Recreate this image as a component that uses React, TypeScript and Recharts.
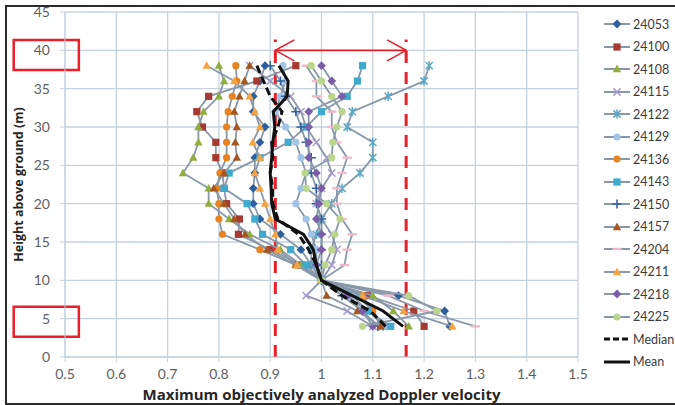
import React from "react";
import { ScatterChart, Scatter, XAxis, YAxis, CartesianGrid, ReferenceLine, ReferenceArea } from "recharts";

// heights (m) shared by every profile, bottom to top
const heights = [4, 6, 8, 10, 12, 14, 16, 18, 20, 22, 24, 26, 28, 30, 32, 34, 36, 38];

const xTicks = [0.5, 0.6, 0.7, 0.8, 0.9, 1, 1.1, 1.2, 1.3, 1.4, 1.5];
const yTicks = [0, 5, 10, 15, 20, 25, 30, 35, 40, 45];

// normalized max velocity, one value per height
const v24053 = [1.25, 1.24, 1.15, 1.0, 0.98, 0.96, 0.92, 0.88, 0.867, 0.867, 0.87, 0.87, 0.88, 0.89, 0.867, 0.867, 0.88, 0.89];
const v24100 = [1.2, 1.18, 1.09, 1.0, 0.96, 0.9, 0.838, 0.84, 0.815, 0.81, 0.807, 0.794, 0.794, 0.768, 0.757, 0.78, 0.874, 0.95];
const v24108 = [1.17, 1.14, 1.1, 1.0, 0.96, 0.92, 0.86, 0.82, 0.78, 0.78, 0.73, 0.75, 0.76, 0.76, 0.77, 0.8, 0.81, 0.8];
const v24115 = [1.1, 1.05, 0.97, 1.0, 1.02, 1.03, 1.02, 1.0, 0.99, 1.0, 1.02, 1.01, 0.99, 0.97, 0.96, 0.94, 0.9, 0.86];
const v24122 = [1.12, 1.1, 1.07, 1.0, 0.98, 0.98, 0.99, 1.0, 1.02, 1.04, 1.075, 1.1, 1.1, 1.05, 1.06, 1.13, 1.2, 1.21];
const v24129 = [1.13, 1.09, 1.06, 1.0, 0.99, 0.99, 0.98, 0.97, 0.95, 0.96, 0.97, 0.96, 0.95, 0.93, 0.91, 0.92, 0.93, 0.925];
const v24136 = [1.115, 1.1, 1.08, 1.0, 0.95, 0.88, 0.807, 0.8, 0.8, 0.796, 0.802, 0.815, 0.815, 0.815, 0.818, 0.826, 0.835, 0.833];
const v24143 = [1.135, 1.09, 1.05, 1.0, 0.97, 0.94, 0.885, 0.87, 0.855, 0.81, 0.82, 0.88, 0.935, 0.97, 1.0, 1.05, 1.07, 1.08];
const v24150 = [1.11, 1.08, 1.04, 1.0, 1.0, 1.0, 1.0, 1.0, 0.99, 0.99, 0.98, 0.98, 0.97, 0.96, 0.95, 0.93, 0.92, 0.9];
const v24157 = [1.115, 1.07, 1.01, 1.0, 0.95, 0.894, 0.851, 0.83, 0.81, 0.79, 0.81, 0.835, 0.832, 0.835, 0.83, 0.84, 0.85, 0.86];
const v24204 = [1.3, 1.2, 1.13, 1.0, 1.045, 1.05, 1.06, 1.04, 1.03, 1.03, 1.04, 1.05, 1.03, 1.02, 1.02, 0.99, 0.99, 0.97];
const v24211 = [1.255, 1.16, 1.08, 1.0, 0.952, 0.915, 0.91, 0.9, 0.89, 0.88, 0.87, 0.88, 0.866, 0.88, 0.87, 0.86, 0.83, 0.776];
const v24218 = [1.1, 1.08, 1.05, 1.0, 0.99, 1.0, 1.0, 0.99, 0.995, 1.0, 0.99, 0.975, 0.975, 0.975, 0.975, 1.04, 1.02, 1.0];
const v24225 = [1.08, 1.225, 1.17, 1.0, 1.007, 1.02, 1.026, 1.036, 1.01, 0.97, 0.968, 1.02, 1.022, 1.03, 1.04, 1.02, 1.0, 0.98];
const vMedian = [1.125, 1.095, 1.04, 1.0, 0.99, 0.975, 0.955, 0.915, 0.905, 0.905, 0.9, 0.905, 0.903, 0.915, 0.923, 0.9, 0.887, 0.874];
const vMean = [1.159, 1.12, 1.06, 1.0, 0.99, 0.984, 0.965, 0.91, 0.903, 0.902, 0.9, 0.903, 0.905, 0.909, 0.906, 0.933, 0.935, 0.917];

const stations = [
  { name: "24053", values: v24053, color: "#2f5e9e", kind: "diamond" },
  { name: "24100", values: v24100, color: "#a63a32", kind: "square" },
  { name: "24108", values: v24108, color: "#8fae3c", kind: "triangle" },
  { name: "24115", values: v24115, color: "#a79ccc", kind: "x" },
  { name: "24122", values: v24122, color: "#5ba7c4", kind: "star" },
  { name: "24129", values: v24129, color: "#a3c3e6", kind: "circle" },
  { name: "24136", values: v24136, color: "#e8841f", kind: "circle" },
  { name: "24143", values: v24143, color: "#3eaacd", kind: "square" },
  { name: "24150", values: v24150, color: "#2f5e9e", kind: "plus" },
  { name: "24157", values: v24157, color: "#a6561e", kind: "triangle" },
  { name: "24204", values: v24204, color: "#f0b9c8", kind: "dash" },
  { name: "24211", values: v24211, color: "#f5a443", kind: "triangle" },
  { name: "24218", values: v24218, color: "#7a5ea8", kind: "diamond" },
  { name: "24225", values: v24225, color: "#b9d68c", kind: "circle" },
];

// annotation positions, in axis units
const lowLimit = 0.91;
const highLimit = 1.165;
const limitTop = 41.4;
const arrowHeight = 40;
const box40 = { x1: 0.4, x2: 0.527, y1: 37.45, y2: 41.35 };
const box5 = { x1: 0.4, x2: 0.527, y1: 2.65, y2: 6.55 };

const LINE_GRAY = "#8898a9";
const RED = "#e8202a";
const GRID = "#c5d2de";
const FONT = "'Open Sans', sans-serif";
const TICK_FONT = "Lato, sans-serif";

const toPoints = (values: number[]) => heights.map((h, i) => ({ x: values[i], y: h }));

function Marker({ cx, cy, kind, color }: any) {
  if (cx == null || cy == null) return <g />;
  const r = 3.6;
  switch (kind) {
    case "diamond":
      return <path d={`M${cx},${cy - r - 0.8}L${cx + r + 0.8},${cy}L${cx},${cy + r + 0.8}L${cx - r - 0.8},${cy}Z`} fill={color} />;
    case "square":
      return <rect x={cx - r} y={cy - r} width={r * 2} height={r * 2} fill={color} />;
    case "triangle":
      return <path d={`M${cx},${cy - r - 0.8}L${cx + r + 0.6},${cy + r - 0.4}L${cx - r - 0.6},${cy + r - 0.4}Z`} fill={color} />;
    case "circle":
      return <circle cx={cx} cy={cy} r={r} fill={color} />;
    case "x":
      return <path d={`M${cx - r},${cy - r}L${cx + r},${cy + r}M${cx - r},${cy + r}L${cx + r},${cy - r}`} stroke={color} strokeWidth={1.5} />;
    case "star":
      return <path d={`M${cx - r},${cy - r}L${cx + r},${cy + r}M${cx - r},${cy + r}L${cx + r},${cy - r}M${cx},${cy - r - 1}L${cx},${cy + r + 1}`} stroke={color} strokeWidth={1.5} />;
    case "plus":
      return <path d={`M${cx - r - 1},${cy}L${cx + r + 1},${cy}M${cx},${cy - r - 1}L${cx},${cy + r + 1}`} stroke={color} strokeWidth={1.5} />;
    case "dash":
      return <rect x={cx - r - 1} y={cy - 1.2} width={(r + 1) * 2} height={2.4} fill={color} />;
    default:
      return <g />;
  }
}

function Arrow({ x1, y1, x2 }: any) {
  const len = 19;
  const half = 10.5;
  return (
    <g stroke={RED} strokeWidth={1.6} fill="none">
      <line x1={x1} y1={y1} x2={x2} y2={y1} />
      <polyline points={`${x1 + len},${y1 - half} ${x1},${y1} ${x1 + len},${y1 + half}`} />
      <polyline points={`${x2 - len},${y1 - half} ${x2},${y1} ${x2 - len},${y1 + half}`} />
    </g>
  );
}

function LegendRow({ label, kind, color, line }: any) {
  return (
    <div style={{ display: "flex", alignItems: "center", height: 22.5 }}>
      <svg width={28} height={12} style={{ marginRight: 2 }}>
        {line === "median" ? (
          <line x1={1} y1={6} x2={27} y2={6} stroke="#111" strokeWidth={3} strokeDasharray="6 3" />
        ) : line === "mean" ? (
          <line x1={1} y1={6} x2={27} y2={6} stroke="#111" strokeWidth={3} />
        ) : (
          <>
            <line x1={1} y1={6} x2={27} y2={6} stroke={LINE_GRAY} strokeWidth={2} />
            <Marker cx={14} cy={6} kind={kind} color={color} />
          </>
        )}
      </svg>
      <span>{label}</span>
    </div>
  );
}

export default function App() {
  return (
    <div style={{ position: "fixed", left: 0, top: 0, width: 675, height: 405, overflow: "hidden", background: "#fff", fontFamily: FONT }}>
      <div style={{ position: "absolute", left: 5, top: 5, width: 720, height: 396, border: "2px solid #2a2a2a" }} />
      <div style={{ position: "absolute", left: 0, top: 0 }}>
        <ScatterChart width={675} height={405} margin={{ top: 12, right: 97, bottom: 0, left: 0 }}>
          <CartesianGrid stroke={GRID} strokeWidth={1.3} />
          <XAxis
            type="number"
            dataKey="x"
            domain={[0.5, 1.5]}
            ticks={xTicks}
            interval={0}
            height={48}
            stroke={GRID}
            tickSize={5}
            tickMargin={7}
            tick={{ fill: "#606060", fontSize: 14, fontFamily: TICK_FONT }}
            label={{ value: "Maximum objectively analyzed Doppler velocity", position: "insideBottom", offset: 5, fill: "#262626", fontSize: 15, fontWeight: 700, fontFamily: FONT }}
          />
          <YAxis
            type="number"
            dataKey="y"
            domain={[0, 45]}
            ticks={yTicks}
            interval={0}
            width={65}
            stroke={GRID}
            tickSize={5}
            tickMargin={10}
            tick={{ fill: "#606060", fontSize: 14, fontFamily: TICK_FONT }}
            label={{ value: "Height above ground (m)", angle: -90, position: "insideLeft", offset: 19, fill: "#262626", fontSize: 12.5, fontWeight: 700, fontFamily: FONT, style: { textAnchor: "middle" } }}
          />
          {stations.map((s) => (
            <Scatter
              key={s.name}
              name={s.name}
              data={toPoints(s.values)}
              line={{ stroke: LINE_GRAY, strokeWidth: 1.8 }}
              shape={(p: any) => <Marker cx={p.cx} cy={p.cy} kind={s.kind} color={s.color} />}
              isAnimationActive={false}
            />
          ))}
          <Scatter
            name="Median"
            data={toPoints(vMedian)}
            line={{ stroke: "#111", strokeWidth: 3, strokeDasharray: "8 4" }}
            shape={() => <g />}
            isAnimationActive={false}
          />
          <Scatter
            name="Mean"
            data={toPoints(vMean)}
            line={{ stroke: "#111", strokeWidth: 3 }}
            shape={() => <g />}
            isAnimationActive={false}
          />
          <ReferenceLine segment={[{ x: lowLimit, y: 0 }, { x: lowLimit, y: limitTop }]} stroke={RED} strokeWidth={3} strokeDasharray="12 9" />
          <ReferenceLine segment={[{ x: highLimit, y: 0 }, { x: highLimit, y: limitTop }]} stroke={RED} strokeWidth={3} strokeDasharray="12 9" />
          <ReferenceLine segment={[{ x: lowLimit, y: arrowHeight }, { x: highLimit, y: arrowHeight }]} shape={(p: any) => <Arrow {...p} />} />
          <ReferenceArea {...box40} ifOverflow="visible" fill="none" stroke={RED} strokeWidth={2.5} />
          <ReferenceArea {...box5} ifOverflow="visible" fill="none" stroke={RED} strokeWidth={2.5} />
        </ScatterChart>
      </div>
      <div style={{ position: "absolute", left: 603, top: 12.75, fontSize: 12.5, fontFamily: TICK_FONT, color: "#3c3c3c", whiteSpace: "nowrap" }}>
        {stations.map((s) => (
          <LegendRow key={s.name} label={s.name} kind={s.kind} color={s.color} />
        ))}
        <LegendRow label="Median" line="median" />
        <LegendRow label="Mean" line="mean" />
      </div>
    </div>
  );
}
